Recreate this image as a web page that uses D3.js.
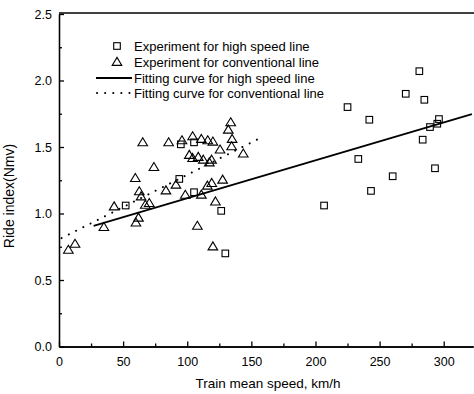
<!DOCTYPE html>
<html>
<head>
<meta charset="utf-8">
<script src="https://cdn.jsdelivr.net/npm/d3@7"></script>
<style>
  body { margin: 0; background: #fff; }
  text { font-family: "Liberation Sans", Arial, sans-serif; fill: #000; }
</style>
</head>
<body>
<div id="chart"></div>
<script>
// experiment data, high speed line (speed km/h, ride index)
var highSpeed = [52, 93.8, 95, 105.3, 105.3, 126.5, 129.7, 206.7, 225, 233.4, 242, 243.3, 260.2, 270.4, 281, 283.6, 284.9, 289.3, 293.2, 295, 296.3];
var highIndex = [1.06, 1.26, 1.52, 1.535, 1.16, 1.02, 0.70, 1.06, 1.80, 1.41, 1.705, 1.17, 1.28, 1.90, 2.07, 1.555, 1.855, 1.65, 1.34, 1.675, 1.71];

// experiment data, conventional line
var convSpeed = [7.3, 12.5, 35, 43, 59.5, 60, 62, 62.6, 64, 65.3, 67.3, 70.4, 74, 83.4, 85.5, 91.2, 95.9, 98.5,
                 101.6, 104.2, 104.2, 107.9, 108.6, 111, 111, 112.5, 116, 117.2, 119, 120, 115.7, 119.1, 127.6, 122,
                 120, 125.6, 132, 133.9, 135, 134.6, 143.7];
var convIndex = [0.727, 0.772, 0.898, 1.053, 1.266, 0.932, 0.968, 1.166, 1.128, 1.535, 1.065, 1.078, 1.349, 1.173, 1.535, 1.216, 1.55, 1.14,
                 1.44, 1.58, 1.417, 0.907, 1.425, 1.56, 1.141, 1.404, 1.55, 1.384, 1.404, 1.54, 1.209, 1.229, 1.254, 1.09,
                 0.752, 1.48, 1.63, 1.685, 1.56, 1.505, 1.45];

// fitted lines (end points)
var highFitSpeed = [27, 322];
var highFitIndex = [0.907, 1.748];
var convFitSpeed = [2, 157];
var convFitIndex = [0.815, 1.568];

var xTicks = [0, 50, 100, 150, 200, 250, 300];
var yTicks = [0.0, 0.5, 1.0, 1.5, 2.0, 2.5];

var legendLabels = ["Experiment for high speed line", "Experiment for conventional line",
                    "Fitting curve for high speed line", "Fitting curve for conventional line"];

var width = 474, height = 394;

var svg = d3.select("#chart").append("svg")
    .attr("width", width)
    .attr("height", height);

var x = d3.scaleLinear().domain([0, 323]).range([59, 473.2]);
var y = d3.scaleLinear().domain([0, 2.5]).range([346.5, 14]);

// axes: ticks point inward
svg.append("g")
    .attr("transform", "translate(0," + y(0) + ")")
    .call(d3.axisBottom(x).tickValues(xTicks).tickSizeInner(-5).tickSizeOuter(0).tickPadding(11)
      .tickFormat(d3.format("d")));
svg.append("g")
    .attr("transform", "translate(0," + y(0) + ")")
    .call(d3.axisBottom(x).tickValues(d3.range(25, 323, 50)).tickSizeInner(-3).tickSizeOuter(0).tickFormat(""));

svg.append("g")
    .attr("transform", "translate(" + x(0) + ",0)")
    .call(d3.axisLeft(y).tickValues(yTicks).tickSizeInner(-5).tickSizeOuter(0).tickPadding(7)
      .tickFormat(d3.format(".1f")));
svg.append("g")
    .attr("transform", "translate(" + x(0) + ",0)")
    .call(d3.axisLeft(y).tickValues([0.25, 0.75, 1.25, 1.75, 2.25]).tickSizeInner(-3).tickSizeOuter(0).tickFormat(""));

svg.selectAll(".domain, .tick line").attr("stroke", "#000").attr("stroke-width", 1.3);
svg.selectAll(".tick text").style("font-size", "12.5px");

// top frame line
svg.append("line")
    .attr("x1", x(0)).attr("x2", width)
    .attr("y1", y(2.5) - 1).attr("y2", y(2.5) - 1)
    .attr("stroke", "#000").attr("stroke-width", 1.3);

// axis titles
svg.append("text")
    .attr("x", 268).attr("y", 388)
    .attr("text-anchor", "middle")
    .style("font-size", "13.5px")
    .text("Train mean speed, km/h");

svg.append("text")
    .attr("transform", "translate(14," + 196 + ") rotate(-90)")
    .attr("text-anchor", "middle")
    .style("font-size", "14px")
    .text("Ride index(Nmv)");

// fitting lines
var line = d3.line().x(function(d) { return x(d[0]); }).y(function(d) { return y(d[1]); });

svg.append("path")
    .datum(d3.zip(highFitSpeed, highFitIndex))
    .attr("d", line)
    .attr("fill", "none").attr("stroke", "#000").attr("stroke-width", 1.8);

svg.append("path")
    .datum(d3.zip(convFitSpeed, convFitIndex))
    .attr("d", line)
    .attr("fill", "none").attr("stroke", "#000").attr("stroke-width", 2)
    .attr("stroke-linecap", "round")
    .attr("stroke-dasharray", "0.1,8");

// markers
var triPath = "M0,-4.6L4.8,3.4L-4.8,3.4Z";

svg.append("g").selectAll("path")
    .data(d3.zip(convSpeed, convIndex))
    .enter().append("path")
      .attr("transform", function(d) { return "translate(" + x(d[0]) + "," + y(d[1]) + ")"; })
      .attr("d", triPath)
      .attr("fill", "none").attr("stroke", "#000").attr("stroke-width", 1.1);

svg.append("g").selectAll("rect")
    .data(d3.zip(highSpeed, highIndex))
    .enter().append("rect")
      .attr("x", function(d) { return x(d[0]) - 3.3; })
      .attr("y", function(d) { return y(d[1]) - 3.3; })
      .attr("width", 6.6).attr("height", 6.6)
      .attr("fill", "none").attr("stroke", "#000").attr("stroke-width", 1.1);

// legend
var legend = svg.append("g");
var rowY = [46, 62, 78, 93];

legend.append("rect")
    .attr("x", 117 - 3.3).attr("y", rowY[0] - 3.3)
    .attr("width", 6.6).attr("height", 6.6)
    .attr("fill", "none").attr("stroke", "#000").attr("stroke-width", 1.1);
legend.append("path")
    .attr("transform", "translate(117," + rowY[1] + ")")
    .attr("d", triPath)
    .attr("fill", "none").attr("stroke", "#000").attr("stroke-width", 1.1);
legend.append("line")
    .attr("x1", 96).attr("x2", 132).attr("y1", rowY[2]).attr("y2", rowY[2])
    .attr("stroke", "#000").attr("stroke-width", 1.8);
legend.append("line")
    .attr("x1", 97).attr("x2", 131).attr("y1", rowY[3]).attr("y2", rowY[3])
    .attr("stroke", "#000").attr("stroke-width", 2)
    .attr("stroke-linecap", "round")
    .attr("stroke-dasharray", "0.1,8");

legend.selectAll("text")
    .data(legendLabels)
    .enter().append("text")
      .attr("x", 134)
      .attr("y", function(d, i) { return rowY[i]; })
      .attr("dy", "0.35em")
      .style("font-size", "13px")
      .text(function(d) { return d; });
</script>
</body>
</html>
